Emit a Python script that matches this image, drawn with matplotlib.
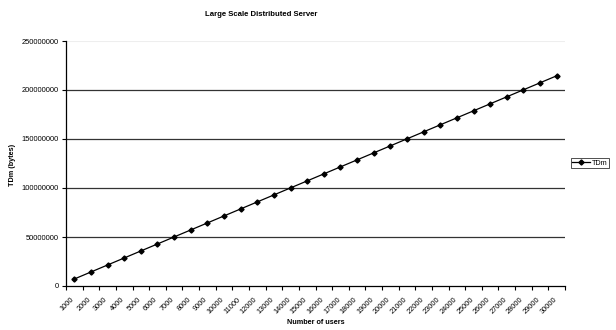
import matplotlib
matplotlib.use("Agg")
import matplotlib.pyplot as plt
import numpy as np

plt.rcParams['font.family'] = ['Liberation Sans', 'DejaVu Sans']

users = ["1000", "2000", "3000", "4000", "5000", "6000", "7000", "8000", "9000", "10000",
         "11000", "12000", "13000", "14000", "15000", "16000", "17000", "18000", "19000", "20000",
         "21000", "22000", "23000", "24000", "25000", "26000", "27000", "28000", "29000", "30000"]
tdm = [7150000, 14300000, 21450000, 28600000, 35750000, 42900000, 50050000, 57200000,
       64350000, 71500000, 78650000, 85800000, 92950000, 100100000, 107250000, 114400000,
       121550000, 128700000, 135850000, 143000000, 150150000, 157300000, 164450000, 171600000,
       178750000, 185900000, 193050000, 200200000, 207350000, 214500000]
y_ticks = [0, 50000000, 100000000, 150000000, 200000000, 250000000]

W, H = 616, 330
fig = plt.figure(figsize=(W / 100, H / 100), dpi=100)
ax = fig.add_axes([66 / W, 1 - 286 / H, (565 - 66) / W, (286 - 41) / H])

n = len(users)
x = np.arange(n) + 0.5
line, = ax.plot(x, tdm, color='black', lw=0.9, marker='D', markersize=2.6,
                markerfacecolor='black', markeredgecolor='black', label='TDm')

ax.set_xlim(0, n)
ax.set_ylim(0, 250000000)

# category boundaries carry the tick marks; labels sit at category centres
ax.set_xticks(np.arange(n + 1))
ax.set_xticklabels([])
ax.tick_params(axis='x', direction='out', length=3, width=0.8, color='black')
for xi, lab in zip(x, users):
    ax.text(xi - 0.2, -10000000, lab, rotation=45, ha='right', va='top',
            rotation_mode='anchor', fontsize=5.3, color='black')

ax.set_yticks(y_ticks)
ax.set_yticklabels([str(v) for v in y_ticks], fontsize=5.4)
ax.tick_params(axis='y', direction='out', length=3, width=0.8, color='black', pad=2)

for v in y_ticks[1:-1]:
    ax.axhline(v, color='#333333', lw=0.9, zorder=0)
ax.axhline(y_ticks[-1], color='#eeeeee', lw=0.8, zorder=0)

for s in ['top', 'right']:
    ax.spines[s].set_visible(False)
for s in ['left', 'bottom']:
    ax.spines[s].set_linewidth(0.9)
    ax.spines[s].set_color('black')

fig.text(261 / W, 1 - 15 / H, "Large Scale Distributed Server", ha='center', va='center',
         fontsize=5.6, fontweight='bold')
fig.text(316 / W, 1 - 323 / H, "Number of users", ha='center', va='center',
         fontsize=5.2, fontweight='bold')
fig.text(13 / W, 1 - 165 / H, "TDm (bytes)", ha='center', va='center', rotation=90,
         fontsize=5.2, fontweight='bold')

leg = fig.legend(handles=[line], loc='center', bbox_to_anchor=(590 / W, 1 - 163 / H),
                 fontsize=5.2, frameon=True, fancybox=False, handlelength=2.4,
                 handletextpad=0.3, borderpad=0.25, borderaxespad=0)
leg.get_frame().set_edgecolor('black')
leg.get_frame().set_linewidth(0.6)

fig.savefig("out.png", dpi=100, facecolor='white')
